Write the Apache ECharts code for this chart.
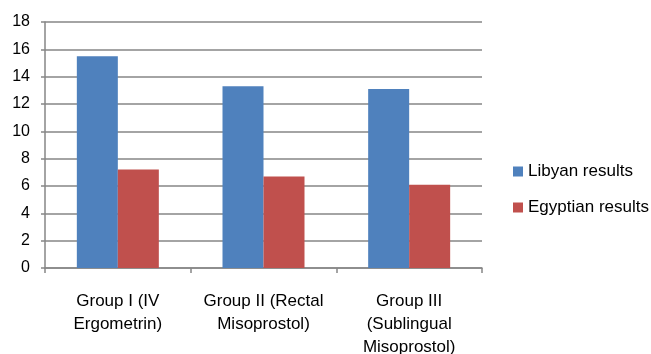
<!DOCTYPE html>
<html>
<head>
<meta charset="utf-8">
<script src="https://cdn.jsdelivr.net/npm/echarts@6/dist/echarts.min.js"></script>
<style>
  html, body { margin: 0; padding: 0; background: #fff; }
  #chart { width: 651px; height: 354px; }
</style>
</head>
<body>
<div id="chart"></div>
<script>
const categories = [
  'Group I (IV\nErgometrin)',
  'Group II (Rectal\nMisoprostol)',
  'Group III\n(Sublingual\nMisoprostol)'
];
const libyan = [15.5, 13.3, 13.1];
const egyptian = [7.2, 6.7, 6.1];

const chart = echarts.init(document.getElementById('chart'));
const font = 'Liberation Sans, Arial, sans-serif';
const grey = '#868686';

chart.setOption({
  animation: false,
  textStyle: { fontFamily: font },
  grid: { left: 45, right: 169, top: 22, bottom: 86, containLabel: false, outerBoundsMode: 'none' },
  legend: {
    orient: 'vertical',
    left: 508,
    top: 158,
    itemWidth: 10,
    itemHeight: 10,
    itemGap: 19,
    icon: 'rect',
    textStyle: { fontFamily: font, fontSize: 17, color: '#000' },
    data: ['Libyan results', 'Egyptian results']
  },
  xAxis: {
    type: 'category',
    data: categories,
    axisLine: { lineStyle: { color: grey, width: 1.5 } },
    axisTick: { show: true, length: 5, lineStyle: { color: grey, width: 1.5 } },
    axisLabel: {
      color: '#000', fontSize: 17, fontFamily: font,
      lineHeight: 23, margin: 22, interval: 0
    }
  },
  yAxis: {
    type: 'value',
    min: 0, max: 18, interval: 2,
    axisLine: { show: true, lineStyle: { color: grey, width: 1.5 } },
    axisTick: { show: true, length: 4, lineStyle: { color: grey, width: 1.5 } },
    splitLine: { lineStyle: { color: grey, width: 1.5 } },
    axisLabel: { color: '#000', fontSize: 16, fontFamily: font, margin: 15 }
  },
  series: [
    {
      name: 'Libyan results', type: 'bar', data: libyan,
      barWidth: 41, barGap: '0%',
      itemStyle: { color: '#4f81bd' }
    },
    {
      name: 'Egyptian results', type: 'bar', data: egyptian,
      barWidth: 41, barGap: '0%',
      itemStyle: { color: '#c0504d' }
    }
  ]
});
</script>
</body>
</html>
